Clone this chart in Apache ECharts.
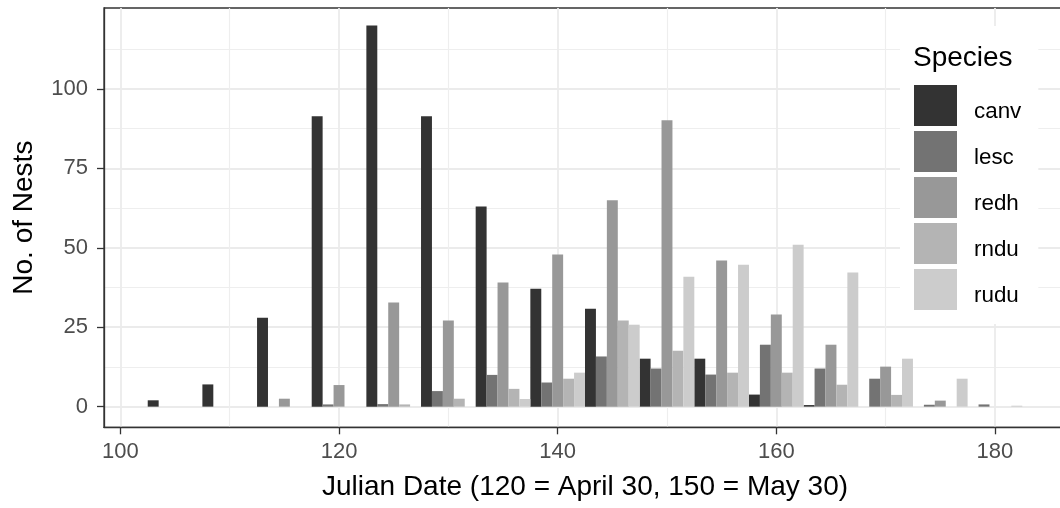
<!DOCTYPE html>
<html>
<head>
<meta charset="utf-8">
<script src="https://cdn.jsdelivr.net/npm/echarts@6/dist/echarts.min.js"></script>
<style>
html, body { margin: 0; padding: 0; background: #ffffff; }
#chart { width: 1060px; height: 508px; }
</style>
</head>
<body>
<div id="chart"></div>
<script>
// Nest counts per 5-day bin (bin centres), one array per species
const binCenters = [105, 110, 115, 120, 125, 130, 135, 140, 145, 150, 155, 160, 165, 170, 175, 180];
const species = ['canv', 'lesc', 'redh', 'rndu', 'rudu'];
const canv = [2, 7, 28, 91.4, 120, 91.4, 63, 37.1, 30.8, 15.1, 15.1, 3.8, 0.5, 0, 0, 0];
const lesc = [0, 0, 0, 0.7, 0.8, 4.9, 10, 7.6, 15.8, 12, 10.1, 19.5, 12, 8.8, 0.6, 0.7];
const redh = [0, 0, 2.5, 6.8, 32.8, 27.1, 39.1, 47.9, 65, 90.2, 46, 29, 19.5, 12.6, 1.9, 0];
const rndu = [0, 0, 0, 0, 0.7, 2.5, 5.6, 8.8, 27.1, 17.6, 10.7, 10.7, 6.9, 3.7, 0, 0];
const rudu = [0, 0, 0, 0, 0, 0, 2.4, 10.7, 25.8, 40.9, 44.7, 51, 42.2, 15.1, 8.8, 0.3];
const counts = [canv, lesc, redh, rndu, rudu];

// Axis breaks
const xTicks = [100, 120, 140, 160, 180];
const xMinor = [110, 130, 150, 170];
const yTicks = [0, 25, 50, 75, 100];
const yMinor = [12.5, 37.5, 62.5, 87.5, 112.5];

const greys = ['#333333', '#737373', '#989898', '#B4B4B4', '#CCCCCC'];
const FONT = '"Liberation Sans", Arial, sans-serif';

// Dodged bars: each species takes one day-wide slot inside its 5-day bin
function renderBar(params, api) {
  const x = api.value(0);
  const v = api.value(1);
  const a = api.coord([x - 0.5, 0]);
  const b = api.coord([x + 0.5, v]);
  return {
    type: 'rect',
    shape: { x: a[0], y: b[1], width: b[0] - a[0], height: a[1] - b[1] },
    style: { fill: api.visual('color') }
  };
}

const series = species.map((name, i) => ({
  name: name,
  type: 'custom',
  xAxisIndex: 0,
  yAxisIndex: 0,
  renderItem: renderBar,
  itemStyle: { color: greys[i] },
  encode: { x: 0, y: 1 },
  data: binCenters
    .map((c, j) => [c - 2 + i, counts[i][j]])
    .filter(d => d[1] > 0)
}));

const xRange = { min: 98.5, max: 186.5 };
const yRange = { min: -6.5, max: 125.5 };
const frame = { color: '#333333', width: 1.3 };

const chart = echarts.init(document.getElementById('chart'), null, { renderer: 'canvas' });
chart.setOption({
  animation: false,
  backgroundColor: '#ffffff',
  color: greys,
  textStyle: { fontFamily: FONT },
  grid: {
    left: 104, top: 8, width: 962, height: 419.3,
    outerBoundsMode: 'none',
    containLabel: false,
    show: true, backgroundColor: '#ffffff',
    borderColor: '#333333', borderWidth: 1.3
  },
  title: {
    text: 'Species',
    left: 913, top: 44, padding: 0, z: 10,
    textStyle: { fontFamily: FONT, fontSize: 28, fontWeight: 'normal', color: '#000000' }
  },
  legend: {
    orient: 'vertical',
    left: 900, top: 26,
    padding: [59, 17, 14, 14],
    backgroundColor: '#ffffff',
    itemWidth: 43, itemHeight: 41, itemGap: 5,
    icon: 'rect',
    selectedMode: false,
    data: species,
    formatter: '{n|{name}}',
    textStyle: {
      fontFamily: FONT, fontSize: 22.4, color: '#000000',
      rich: {
        n: { fontFamily: FONT, fontSize: 22.4, color: '#000000', padding: [13, 0, 0, 12] }
      }
    }
  },
  xAxis: [
    {
      type: 'value', ...xRange,
      position: 'bottom',
      name: 'Julian Date (120 = April 30, 150 = May 30)',
      nameLocation: 'middle', nameGap: 60,
      nameTextStyle: { fontFamily: FONT, fontSize: 28, color: '#000000', verticalAlign: 'middle' },
      axisLine: { show: true, onZero: false, lineStyle: frame },
      axisTick: { show: true, inside: false, length: 7, customValues: xTicks, lineStyle: frame },
      axisLabel: { customValues: xTicks, margin: 14, fontFamily: FONT, fontSize: 22, color: '#4D4D4D' },
      splitLine: { show: true, lineStyle: { color: '#EBEBEB', width: 1.8 } }
    },
    {
      type: 'value', ...xRange,
      position: 'bottom',
      axisLine: { show: false, onZero: false },
      axisTick: { show: false, customValues: xMinor },
      axisLabel: { show: false, customValues: xMinor },
      splitLine: { show: true, lineStyle: { color: '#EEEEEE', width: 1.2 } }
    }
  ],
  yAxis: [
    {
      type: 'value', ...yRange,
      position: 'left',
      name: 'No. of Nests',
      nameLocation: 'middle', nameGap: 80, nameRotate: 90,
      nameTextStyle: { fontFamily: FONT, fontSize: 28, color: '#000000', align: 'center', verticalAlign: 'middle' },
      axisLine: { show: true, onZero: false, lineStyle: frame },
      axisTick: { show: true, inside: false, length: 7, customValues: yTicks, lineStyle: frame },
      axisLabel: { customValues: yTicks, margin: 16, fontFamily: FONT, fontSize: 22, color: '#4D4D4D' },
      splitLine: { show: true, lineStyle: { color: '#EBEBEB', width: 1.8 } }
    },
    {
      type: 'value', ...yRange,
      position: 'left',
      axisLine: { show: false, onZero: false },
      axisTick: { show: false, customValues: yMinor },
      axisLabel: { show: false, customValues: yMinor },
      splitLine: { show: true, lineStyle: { color: '#EEEEEE', width: 1.2 } }
    }
  ],
  series: series
});
</script>
</body>
</html>
